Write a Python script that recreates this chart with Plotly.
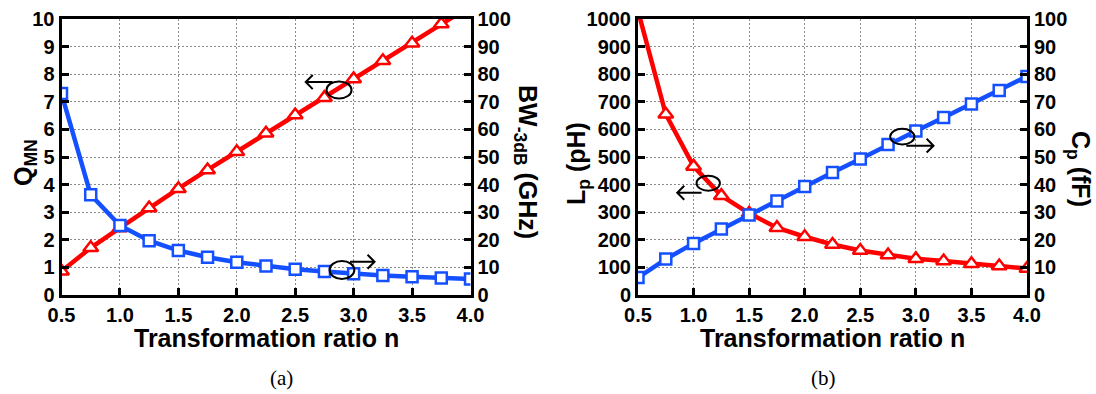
import plotly.graph_objects as go

# ---------------- data ----------------
n_ratio = [0.5, 0.75, 1.0, 1.25, 1.5, 1.75, 2.0, 2.25, 2.5, 2.75, 3.0, 3.25, 3.5, 3.75, 4.0]
q_mn = [0.86, 1.71, 2.43, 3.15, 3.85, 4.53, 5.19, 5.86, 6.52, 7.15, 7.83, 8.49, 9.12, 9.82, 10.47]
bw_3db = [73.0, 36.3, 25.2, 19.7, 16.1, 13.7, 11.9, 10.5, 9.3, 8.5, 7.7, 7.1, 6.6, 6.2, 5.8]
l_p = [1030, 655, 466, 360, 296, 244, 211, 183, 161, 145, 131, 123, 113, 105, 96]
c_p = [6.3, 13.0, 18.7, 23.9, 29.0, 34.1, 39.3, 44.4, 49.3, 54.5, 59.4, 64.3, 69.2, 74.1, 79.2]

x_ticks = [0.5, 1.0, 1.5, 2.0, 2.5, 3.0, 3.5, 4.0]
x_ticktext = ["0.5", "1.0", "1.5", "2.0", "2.5", "3.0", "3.5", "4.0"]

RED = "#ff0000"
BLUE = "#1450ff"
FONT = "Liberation Sans"

W, H = 1096, 394
# plot areas in pixels
LX0, LX1 = 61.5, 470.5
RX0, RX1 = 638.0, 1027.0
PY0, PY1 = 19.0, 295.0


def px(x):
    return x / W


def py(y):
    return 1 - y / H


fig = go.Figure()

red_line = dict(color=RED, width=4.5)
red_marker = dict(symbol="triangle-up", size=13, color="white", line=dict(color=RED, width=2.5))
blue_line = dict(color=BLUE, width=4.5)
blue_marker = dict(symbol="square", size=11, color="white", line=dict(color=BLUE, width=2.5))

fig.add_trace(go.Scatter(x=n_ratio, y=q_mn, xaxis="x", yaxis="y", mode="lines+markers",
                         line=red_line, marker=red_marker, showlegend=False))
fig.add_trace(go.Scatter(x=n_ratio, y=bw_3db, xaxis="x", yaxis="y2", mode="lines+markers",
                         line=blue_line, marker=blue_marker, showlegend=False))
fig.add_trace(go.Scatter(x=n_ratio, y=l_p, xaxis="x2", yaxis="y3", mode="lines+markers",
                         line=red_line, marker=red_marker, showlegend=False))
fig.add_trace(go.Scatter(x=n_ratio, y=c_p, xaxis="x2", yaxis="y4", mode="lines+markers",
                         line=blue_line, marker=blue_marker, showlegend=False))

tickfont = dict(family=FONT, size=20, color="black", weight="bold")
common_axis = dict(showline=True, linecolor="black", linewidth=3, ticks="inside", ticklen=7,
                   tickwidth=2.5, tickcolor="black", tickfont=tickfont, zeroline=False,
                   automargin=False)
grid = dict(showgrid=True, gridcolor="#8a8a8a", gridwidth=1, griddash="2px,2px")

xcommon = dict(range=[0.5, 4.0], tickmode="array", tickvals=x_ticks, ticktext=x_ticktext,
               mirror=True, **common_axis, **grid)
ydomain = [py(PY1), py(PY0)]

fig.update_layout(
    width=W, height=H,
    margin=dict(l=0, r=0, t=0, b=0, pad=0),
    paper_bgcolor="white", plot_bgcolor="white",
    xaxis=dict(domain=[px(LX0), px(LX1)], anchor="y", **xcommon),
    yaxis=dict(domain=ydomain, anchor="x", range=[0, 10], dtick=1, **common_axis, **grid),
    yaxis2=dict(overlaying="y", side="right", anchor="x", range=[0, 100], dtick=10,
                showgrid=False, **common_axis),
    xaxis2=dict(domain=[px(RX0), px(RX1)], anchor="y3", **xcommon),
    yaxis3=dict(domain=ydomain, anchor="x2", range=[0, 1000], dtick=100, **common_axis, **grid),
    yaxis4=dict(overlaying="y3", side="right", anchor="x2", range=[0, 100], dtick=10,
                showgrid=False, **common_axis),
)

title_font = dict(family=FONT, size=25, color="black", weight="bold")
cap_font = dict(family="Liberation Serif", size=21, color="black")
ann = []
# x titles
for cx in [(LX0 + LX1) / 2, (RX0 + RX1) / 2]:
    ann.append(dict(text="Transformation ratio n", x=px(cx), y=py(338), xref="paper", yref="paper",
                    xanchor="center", yanchor="middle", showarrow=False, font=title_font))
ann.append(dict(text="(a)", x=px(281), y=py(378), xref="paper", yref="paper",
                xanchor="center", yanchor="middle", showarrow=False, font=cap_font))
ann.append(dict(text="(b)", x=px(823), y=py(378), xref="paper", yref="paper",
                xanchor="center", yanchor="middle", showarrow=False, font=cap_font))
# y titles
ann.append(dict(text="Q<sub>MN</sub>", x=px(25), y=py(163), xref="paper", yref="paper",
                xanchor="center", yanchor="middle", textangle=-90, showarrow=False, font=title_font))
ann.append(dict(text="BW<sub>-3dB</sub> (GHz)", x=px(526), y=py(162), xref="paper", yref="paper",
                xanchor="center", yanchor="middle", textangle=90, showarrow=False, font=title_font))
ann.append(dict(text="L<sub>p</sub> (pH)", x=px(578), y=py(164), xref="paper", yref="paper",
                xanchor="center", yanchor="middle", textangle=-90, showarrow=False, font=title_font))
ann.append(dict(text="C<sub>p</sub> (fF)", x=px(1079), y=py(169), xref="paper", yref="paper",
                xanchor="center", yanchor="middle", textangle=90, showarrow=False, font=title_font))
fig.update_layout(annotations=ann)

# ellipses + arrows that point each curve to its axis (data coordinates)
blk = dict(color="black", width=2)
shapes = [
    # left plot, red -> left axis
    dict(type="circle", xref="x", yref="y", x0=2.768, x1=2.982, y0=7.12, y1=7.74, line=blk),
    dict(type="path", xref="x", yref="y", path="M 2.82 7.72 L 2.59 7.72 M 2.65 7.97 L 2.59 7.72 L 2.65 7.46", line=blk),
    # left plot, blue -> right axis
    dict(type="circle", xref="x", yref="y2", x0=2.794, x1=3.006, y0=5.8, y1=12.3, line=blk),
    dict(type="path", xref="x", yref="y2", path="M 2.969 12.07 L 3.179 12.07 M 3.119 14.6 L 3.179 12.07 L 3.119 9.53", line=blk),
    # right plot, red -> left axis
    dict(type="circle", xref="x2", yref="y3", x0=1.027, x1=1.237, y0=378, y1=432, line=blk),
    dict(type="path", xref="x2", yref="y3", path="M 1.072 370.7 L 0.853 370.7 M 0.916 396 L 0.853 370.7 L 0.916 345", line=blk),
    # right plot, blue -> right axis
    dict(type="circle", xref="x2", yref="y4", x0=2.769, x1=2.987, y0=54.5, y1=60.2, line=blk),
    dict(type="path", xref="x2", yref="y4", path="M 2.914 54.1 L 3.159 54.1 M 3.097 56.6 L 3.159 54.1 L 3.097 51.6", line=blk),
]
fig.update_layout(shapes=shapes)

fig.write_html("out.html")
